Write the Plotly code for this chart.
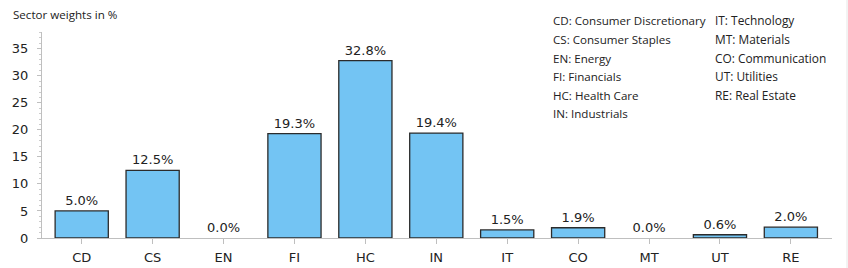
import plotly.graph_objects as go

categories = ["CD", "CS", "EN", "FI", "HC", "IN", "IT", "CO", "MT", "UT", "RE"]
weights = [5.0, 12.5, 0.0, 19.3, 32.8, 19.4, 1.5, 1.9, 0.0, 0.6, 2.0]
legend_col1 = ["CD: Consumer Discretionary", "CS: Consumer Staples", "EN: Energy",
               "FI: Financials", "HC: Health Care", "IN: Industrials"]
legend_col2 = ["IT: Technology", "MT: Materials", "CO: Communication",
               "UT: Utilities", "RE: Real Estate"]
y_ticks = [0, 5, 10, 15, 20, 25, 30, 35]

outline_widths = [0 if v == 0 else 1.3 for v in weights]

fig = go.Figure()
fig.add_trace(go.Bar(
    x=categories, y=weights,
    width=0.75,
    marker=dict(color="#73C4F3", line=dict(color="#2b2b2b", width=outline_widths)),
    texttemplate="%{y:.1f}%", textposition="outside", cliponaxis=False,
    textfont=dict(family="DejaVu Sans", size=13, color="#222222"),
    hoverinfo="skip",
))

fig.update_layout(
    width=848, height=268,
    margin=dict(l=42, r=16, t=32, b=30),
    paper_bgcolor="white", plot_bgcolor="white",
    showlegend=False,
    font=dict(family="DejaVu Sans", size=13, color="#222222"),
)
fig.update_xaxes(
    range=[-0.56, 10.58], automargin=False,
    showline=True, linecolor="#bfbfbf", linewidth=1,
    ticks="outside", ticklen=5, tickcolor="#bfbfbf",
    showgrid=False, zeroline=False,
    ticklabelstandoff=2,
    tickfont=dict(family="DejaVu Sans", size=13, color="#222222"),
)
fig.update_yaxes(
    range=[0, 38.1], automargin=False,
    tickvals=y_ticks,
    showline=True, linecolor="#bfbfbf", linewidth=1,
    ticks="outside", ticklen=4, tickcolor="#bfbfbf",
    minor=dict(dtick=1, ticks="outside", ticklen=2, tickcolor="#cccccc", showgrid=False),
    showgrid=False, zeroline=False,
    ticklabelstandoff=6,
    tickfont=dict(family="DejaVu Sans", size=13, color="#222222"),
)

fig.add_annotation(text="Sector weights in %", xref="paper", yref="paper",
                   x=(11 - 42) / 790, y=1 + 18 / 206, xanchor="left", yanchor="middle",
                   showarrow=False, font=dict(family="Open Sans", size=11.6, color="#222222"))

row_y = [20, 39, 58, 76, 95, 113]
for i, t in enumerate(legend_col1):
    fig.add_annotation(text=t, xref="paper", yref="paper",
                       x=(551 - 42) / 790, y=(238 - row_y[i]) / 206,
                       xanchor="left", yanchor="middle", showarrow=False,
                       font=dict(family="Open Sans", size=11.6, color="#222222"))
for i, t in enumerate(legend_col2):
    fig.add_annotation(text=t, xref="paper", yref="paper",
                       x=(713 - 42) / 790, y=(238 - row_y[i]) / 206,
                       xanchor="left", yanchor="middle", showarrow=False,
                       font=dict(family="Open Sans", size=11.9, color="#222222"))

fig.add_shape(type="line", xref="paper", yref="paper",
              x0=(847 - 42) / 790, x1=(847 - 42) / 790, y0=-30 / 206, y1=1 + 32 / 206,
              line=dict(color="#e6e6e6", width=1))

fig.write_html("out.html")
